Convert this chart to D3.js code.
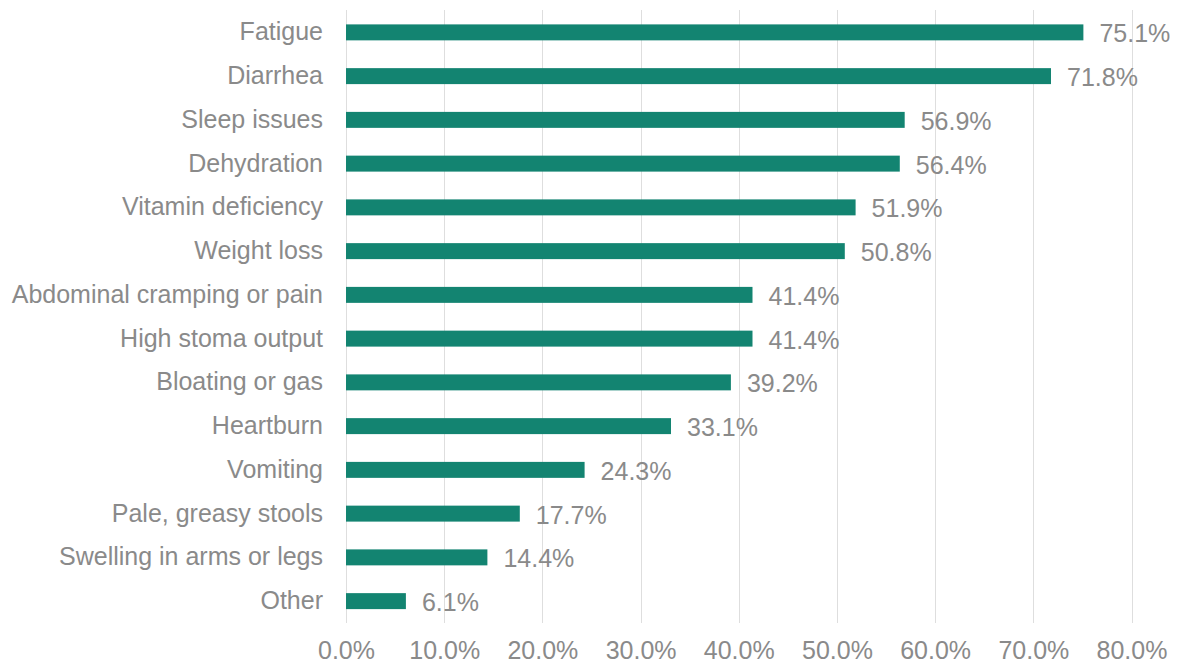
<!DOCTYPE html>
<html>
<head>
<meta charset="utf-8">
<script src="https://cdn.jsdelivr.net/npm/d3@7"></script>
<style>
  body { margin: 0; background: #fff; }
  svg text { font-family: "Liberation Sans", Arial, sans-serif; fill: #8a8a8a; }
</style>
</head>
<body>
<svg id="chart" width="1178" height="664"></svg>
<script>
// symptoms reported, top to bottom
var categories = ["Fatigue", "Diarrhea", "Sleep issues", "Dehydration", "Vitamin deficiency",
  "Weight loss", "Abdominal cramping or pain", "High stoma output", "Bloating or gas",
  "Heartburn", "Vomiting", "Pale, greasy stools", "Swelling in arms or legs", "Other"];
var values = [75.1, 71.8, 56.9, 56.4, 51.9, 50.8, 41.4, 41.4, 39.2, 33.1, 24.3, 17.7, 14.4, 6.1];
var tickValues = [0, 10, 20, 30, 40, 50, 60, 70, 80];

var svg = d3.select("#chart");
var barColor = "#138471";
var fontSize = "25px";

var x = d3.scaleLinear().domain([0, 80]).range([346, 1131.5]);
var y = d3.scaleBand().domain(categories).range([10.5, 623]).paddingInner(0.635).paddingOuter(0.3175);

// vertical gridlines
svg.append("g").selectAll("line")
  .data(tickValues)
  .enter().append("line")
  .attr("x1", function(d){ return Math.round(x(d)) + 0.5 })
  .attr("x2", function(d){ return Math.round(x(d)) + 0.5 })
  .attr("y1", 10)
  .attr("y2", 623)
  .attr("stroke", "#dedede")
  .attr("stroke-width", 1);

// x axis tick labels
var xAxis = d3.axisBottom(x).tickValues(tickValues).tickSize(0).tickPadding(0)
  .tickFormat(function(d){ return d.toFixed(1) + "%" });
var gx = svg.append("g").attr("transform", "translate(0,659)").call(xAxis);
gx.select(".domain").remove();
gx.selectAll("text").style("font-size", fontSize).attr("dy", "0").attr("fill", "#8a8a8a");

// category labels
var yAxis = d3.axisLeft(y).tickSize(0).tickPadding(23);
var gy = svg.append("g").attr("transform", "translate(346,0)").call(yAxis);
gy.select(".domain").remove();
gy.selectAll("text").style("font-size", fontSize).attr("fill", "#8a8a8a");

// bars
svg.append("g").selectAll("rect")
  .data(values)
  .enter().append("rect")
  .attr("x", x(0))
  .attr("y", function(d, i){ return y(categories[i]) })
  .attr("width", function(d){ return x(d) - x(0) })
  .attr("height", y.bandwidth())
  .attr("fill", barColor);

// value labels
svg.append("g").selectAll("text")
  .data(values)
  .enter().append("text")
  .attr("x", function(d){ return x(d) + 16 })
  .attr("y", function(d, i){ return y(categories[i]) + y.bandwidth() / 2 })
  .attr("dy", "0.4em")
  .style("font-size", fontSize)
  .text(function(d){ return d.toFixed(1) + "%" });
</script>
</body>
</html>
